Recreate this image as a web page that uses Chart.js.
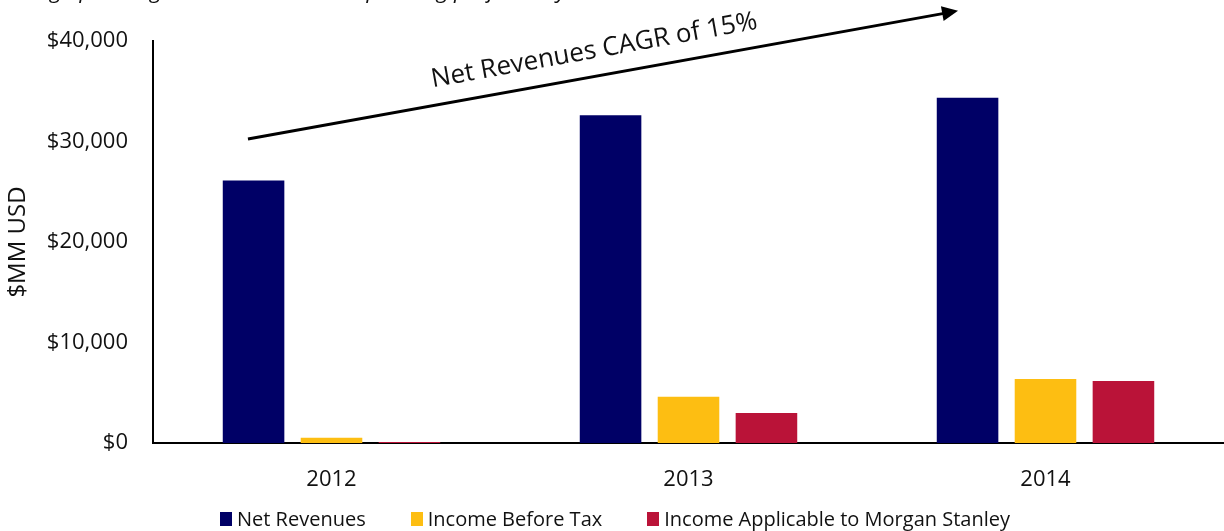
<!DOCTYPE html>
<html>
<head>
<meta charset="utf-8">
<title>Net Revenues and Income</title>
<script src="https://cdn.jsdelivr.net/npm/chart.js@4"></script>
<style>
    html, body { margin: 0; padding: 0; background: #fff; overflow: hidden; }
    #wrap { position: relative; width: 1224px; height: 531px; }
    #legend {
        position: absolute; left: 220px; top: 507px;
        display: flex; gap: 45px;
        font: 20px "Open Sans", sans-serif; line-height: 24px; color: #111;
    }
    .legend-item { display: flex; align-items: center; white-space: nowrap; }
    .legend-box { width: 12px; height: 14px; margin-right: 5px; }
</style>
</head>
<body>
<div id="wrap">
    <canvas id="chartCanvas" width="1224" height="531"></canvas>
    <div id="legend"></div>
</div>
<script>
const years = ['2012', '2013', '2014'];
const netRevenues = [26112, 32600, 34350];
const incomeBeforeTax = [530, 4600, 6370];
const incomeApplicable = [100, 2980, 6170];
const seriesNames = ['Net Revenues', 'Income Before Tax', 'Income Applicable to Morgan Stanley'];
const seriesColors = ['#000066', '#FDBE12', '#BA1338'];
const yTicks = [0, 10000, 20000, 30000, 40000];

const captionText = 'Strong operating results drive better operating profitability';
const cagrText = 'Net Revenues CAGR of 15%';
// arrow ends as [category index offset, value]
const arrowFrom = [-0.234, 30250];
const arrowTo = [1.755, 43000];

const FONT = '"Open Sans", sans-serif';

function formatDollars(v) {
    return '$' + Number(v).toLocaleString('en-US');
}

const annotations = {
    id: 'annotations',
    afterDraw(chart) {
        const ctx = chart.ctx;
        const x = chart.scales.x;
        const y = chart.scales.y;
        const step = x.getPixelForValue(1) - x.getPixelForValue(0);
        const x0 = x.getPixelForValue(0) + arrowFrom[0] * step;
        const y0 = y.getPixelForValue(arrowFrom[1]);
        const x1 = x.getPixelForValue(0) + arrowTo[0] * step;
        const y1 = y.getPixelForValue(arrowTo[1]);
        const angle = Math.atan2(y1 - y0, x1 - x0);

        ctx.save();
        // header line, only its lowest part fits on the canvas
        ctx.fillStyle = '#111';
        ctx.font = 'italic 22px ' + FONT;
        ctx.textBaseline = 'alphabetic';
        ctx.fillText(captionText, -2, -2);

        // growth arrow
        const head = 16;
        const half = 7.5;
        ctx.strokeStyle = '#000';
        ctx.lineWidth = 3;
        ctx.beginPath();
        ctx.moveTo(x0, y0);
        ctx.lineTo(x1 - Math.cos(angle) * head * 0.8, y1 - Math.sin(angle) * head * 0.8);
        ctx.stroke();
        ctx.fillStyle = '#000';
        ctx.beginPath();
        ctx.moveTo(x1, y1);
        ctx.lineTo(x1 - head * Math.cos(angle) + half * Math.sin(angle), y1 - head * Math.sin(angle) - half * Math.cos(angle));
        ctx.lineTo(x1 - head * Math.cos(angle) - half * Math.sin(angle), y1 - head * Math.sin(angle) + half * Math.cos(angle));
        ctx.closePath();
        ctx.fill();

        // label above the arrow
        const t = 0.494;
        const cx = x0 + (x1 - x0) * t;
        const cy = y0 + (y1 - y0) * t;
        ctx.translate(cx, cy);
        ctx.rotate(angle);
        ctx.fillStyle = '#111';
        ctx.font = '26px ' + FONT;
        ctx.textAlign = 'center';
        ctx.fillText(cagrText, 0, -18);
        ctx.restore();
    }
};

const ctx = document.getElementById('chartCanvas').getContext('2d');
const datasets = [netRevenues, incomeBeforeTax, incomeApplicable].map((values, i) => ({
    label: seriesNames[i],
    data: values,
    backgroundColor: seriesColors[i],
    borderWidth: 0,
    categoryPercentage: 0.655,
    barPercentage: 0.79
}));

const chart = new Chart(ctx, {
    type: 'bar',
    data: { labels: years, datasets: datasets },
    options: {
        responsive: false,
        animation: false,
        layout: { padding: { top: 41, right: 0, bottom: 0, left: 0 } },
        plugins: {
            legend: { display: false },
            tooltip: { enabled: false }
        },
        scales: {
            x: {
                grid: { display: false, drawTicks: false },
                border: { display: true, color: '#000', width: 2 },
                ticks: { color: '#111', font: { family: FONT, size: 22 }, padding: 24 },
                afterFit(scale) { scale.height = 88; }
            },
            y: {
                min: 0,
                max: 40000,
                afterBuildTicks(scale) { scale.ticks = yTicks.map(v => ({ value: v })); },
                grid: { display: false, drawTicks: false },
                border: { display: true, color: '#000', width: 2 },
                ticks: {
                    color: '#111',
                    font: { family: FONT, size: 22 },
                    padding: 25,
                    callback: formatDollars
                },
                title: {
                    display: true,
                    text: '$MM USD',
                    color: '#111',
                    font: { family: FONT, size: 24 },
                    padding: { top: 4, bottom: 0 }
                },
                afterFit(scale) { scale.width = 153; }
            }
        }
    },
    plugins: [annotations]
});

// legend built from the chart's own datasets
const legendDiv = document.getElementById('legend');
chart.data.datasets.forEach(ds => {
    const item = document.createElement('div');
    item.className = 'legend-item';
    item.innerHTML = `<span class="legend-box" style="background:${ds.backgroundColor}"></span><span>${ds.label}</span>`;
    legendDiv.appendChild(item);
});
</script>
</body>
</html>
